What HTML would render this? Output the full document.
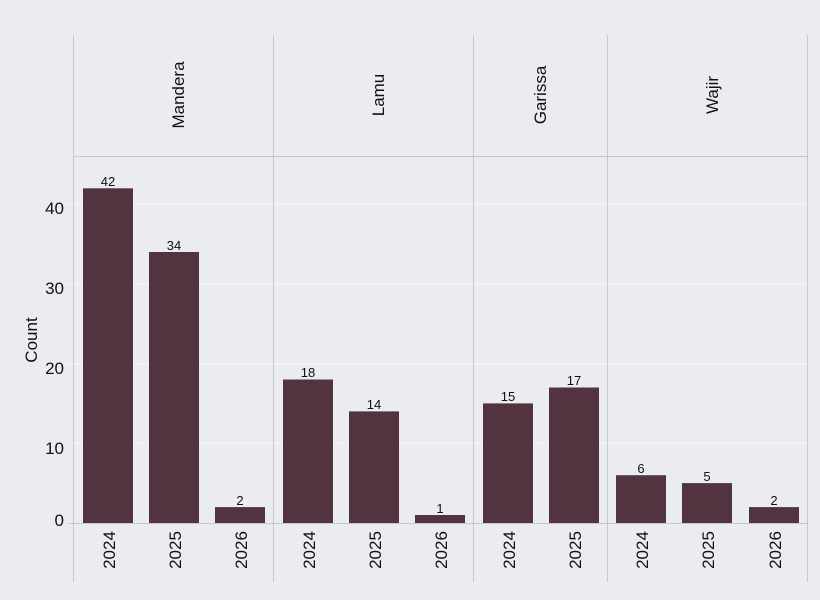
<!DOCTYPE html>
<html><head><meta charset="utf-8"><style>html,body{margin:0;padding:0;background:#ebecef}svg{display:block}</style></head>
<body>
<svg width="820" height="600" xmlns="http://www.w3.org/2000/svg" font-family="Liberation Sans, DejaVu Sans, sans-serif">
<rect width="820" height="600" fill="#ebecef"/>
<g stroke="#f7f7f9" stroke-width="1">
<line x1="67" y1="204.2" x2="807" y2="204.2"/>
<line x1="67" y1="283.9" x2="807" y2="283.9"/>
<line x1="67" y1="363.6" x2="807" y2="363.6"/>
<line x1="67" y1="443.3" x2="807" y2="443.3"/>
</g>
<g stroke="#c8c8cc" stroke-width="1">
<line x1="73.5" y1="35" x2="73.5" y2="582"/>
<line x1="273.5" y1="35" x2="273.5" y2="582"/>
<line x1="473.5" y1="35" x2="473.5" y2="582"/>
<line x1="607.5" y1="35" x2="607.5" y2="582"/>
<line x1="807.5" y1="35" x2="807.5" y2="582"/>
<line x1="73" y1="156.5" x2="808" y2="156.5"/>
<line x1="68" y1="523.5" x2="808" y2="523.5"/>
</g>
<g fill="#523441">
<rect x="83" y="188.3" width="50" height="334.7"/>
<rect x="149" y="252" width="50" height="271"/>
<rect x="215" y="507.1" width="50" height="15.9"/>
<rect x="283" y="379.5" width="50" height="143.5"/>
<rect x="349" y="411.4" width="50" height="111.6"/>
<rect x="415" y="515" width="50" height="8"/>
<rect x="483" y="403.4" width="50" height="119.6"/>
<rect x="549" y="387.5" width="50" height="135.5"/>
<rect x="616" y="475.2" width="50" height="47.8"/>
<rect x="682" y="483.1" width="50" height="39.9"/>
<rect x="749" y="507.1" width="50" height="15.9"/>
</g>
<g font-size="13" fill="#111" text-anchor="middle">
<text x="108" y="186">42</text>
<text x="174" y="250">34</text>
<text x="240" y="505">2</text>
<text x="308" y="377">18</text>
<text x="374" y="409">14</text>
<text x="440" y="513">1</text>
<text x="508" y="401">15</text>
<text x="574" y="385">17</text>
<text x="641" y="473">6</text>
<text x="707" y="481">5</text>
<text x="774" y="505">2</text>
</g>
<g font-size="17" fill="#111" text-anchor="end">
<text x="64" y="214">40</text>
<text x="64" y="294">30</text>
<text x="64" y="374">20</text>
<text x="64" y="454">10</text>
<text x="64" y="526">0</text>
</g>
<text transform="translate(37,340) rotate(-90)" font-size="17" fill="#111" text-anchor="middle">Count</text>
<g font-size="17" fill="#111" text-anchor="middle">
<text transform="translate(184,95) rotate(-90)">Mandera</text>
<text transform="translate(384,95) rotate(-90)">Lamu</text>
<text transform="translate(546,95) rotate(-90)">Garissa</text>
<text transform="translate(718,95) rotate(-90)">Wajir</text>
</g>
<g font-size="17" fill="#111" text-anchor="middle">
<text transform="translate(115,550) rotate(-90)">2024</text>
<text transform="translate(181,550) rotate(-90)">2025</text>
<text transform="translate(247,550) rotate(-90)">2026</text>
<text transform="translate(315,550) rotate(-90)">2024</text>
<text transform="translate(381,550) rotate(-90)">2025</text>
<text transform="translate(447,550) rotate(-90)">2026</text>
<text transform="translate(515,550) rotate(-90)">2024</text>
<text transform="translate(581,550) rotate(-90)">2025</text>
<text transform="translate(648,550) rotate(-90)">2024</text>
<text transform="translate(714,550) rotate(-90)">2025</text>
<text transform="translate(781,550) rotate(-90)">2026</text>
</g>
</svg>
</body></html>
